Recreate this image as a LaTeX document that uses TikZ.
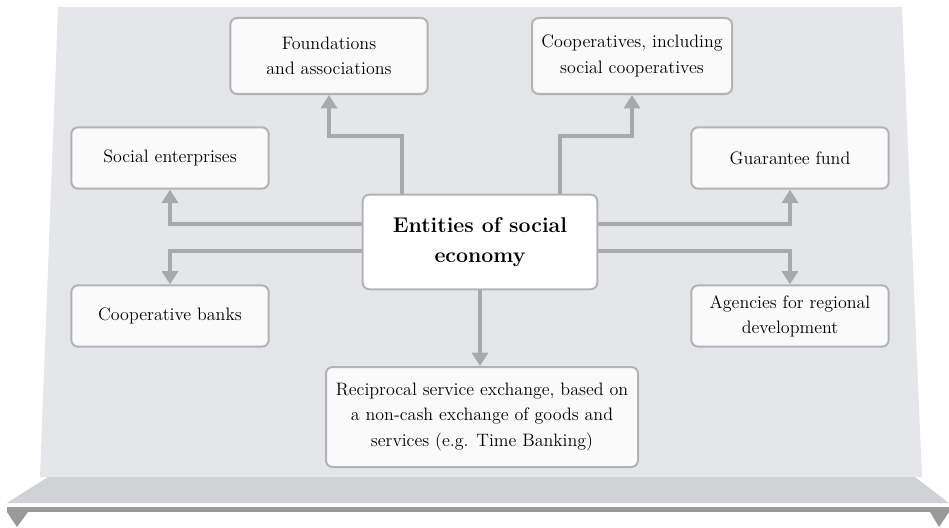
\documentclass[tikz,border=0pt]{standalone}
\usepackage{tikz}
\usepackage{xcolor}
\usetikzlibrary{arrows.meta}
\definecolor{panelgray}{HTML}{E5E6E8}
\definecolor{floorgray}{HTML}{D1D2D4}
\definecolor{bargray}{HTML}{999A9C}
\definecolor{linkgray}{HTML}{A8A9AB}
\definecolor{edgegray}{HTML}{B2B3B5}
\definecolor{boxwhite}{HTML}{FAFAFA}
\tikzset{
  entitybox/.style={draw=edgegray, line width=1.5pt, rounded corners=5pt, fill=boxwhite,
    align=center, inner sep=2pt, font=\fontsize{13.5}{19}\selectfont},
  hubbox/.style={entitybox, fill=white, font=\fontsize{16}{22.5}\selectfont\bfseries},
  link/.style={draw=linkgray, line width=3pt, -{Triangle[width=12pt,length=10pt]}},
  trunk/.style={draw=linkgray, line width=3pt}
}

\begin{document}
\begin{tikzpicture}[x=0.75pt, y=-0.75pt]
\useasboundingbox (0,0) rectangle (949,528);
% backdrop
\fill[panelgray] (58,7) -- (902,7) -- (922,477) -- (40,477) -- cycle;
\fill[floorgray] (48,477) -- (915,477) -- (949,503) -- (7,503) -- cycle;
\fill[bargray] (7,507) rectangle (949,512);
\fill[bargray] (7,512) -- (28,512) -- (17,527) -- cycle;
\fill[bargray] (930,512) -- (949,512) -- (939,527) -- cycle;

% entities
\node[hubbox, minimum width=176pt, minimum height=71pt] (hub) at (480,242) {Entities of social\\economy};
\node[entitybox, minimum width=148pt, minimum height=57pt] (found) at (329,56) {Foundations\\and associations};
\node[entitybox, minimum width=150pt, minimum height=57pt] (coop) at (632,56) {Cooperatives, including\\social cooperatives};
\node[entitybox, minimum width=148pt, minimum height=46pt] (socent) at (170,158) {Social enterprises};
\node[entitybox, minimum width=148pt, minimum height=46pt] (guar) at (790,158) {Guarantee fund};
\node[entitybox, minimum width=148pt, minimum height=46pt] (banks) at (170,316) {Cooperative banks};
\node[entitybox, minimum width=148pt, minimum height=46pt] (agency) at (790,316) {Agencies for regional\\development};
\node[entitybox, minimum width=234pt, minimum height=75pt] (recip) at (482,417) {Reciprocal service exchange, based on\\a non-cash exchange of goods and\\services (e.g. Time Banking)};

% links
\draw[link] ([xshift=30pt]hub.north west) -- ++(0,-58) -| (found.south);
\draw[link] ([xshift=-29pt]hub.north east) -- ++(0,-58) -| (coop.south);
\draw[link] ([yshift=13.5pt]hub.west) -| (socent.south);
\draw[link] ([yshift=-6.75pt]hub.west) -| (banks.north);
\draw[link] ([yshift=13.5pt]hub.east) -| (guar.south);
\draw[link] ([yshift=-6.75pt]hub.east) -| (agency.north);
\draw[link] (hub.south) -- (hub.south |- recip.north);
\end{tikzpicture}
\end{document}
